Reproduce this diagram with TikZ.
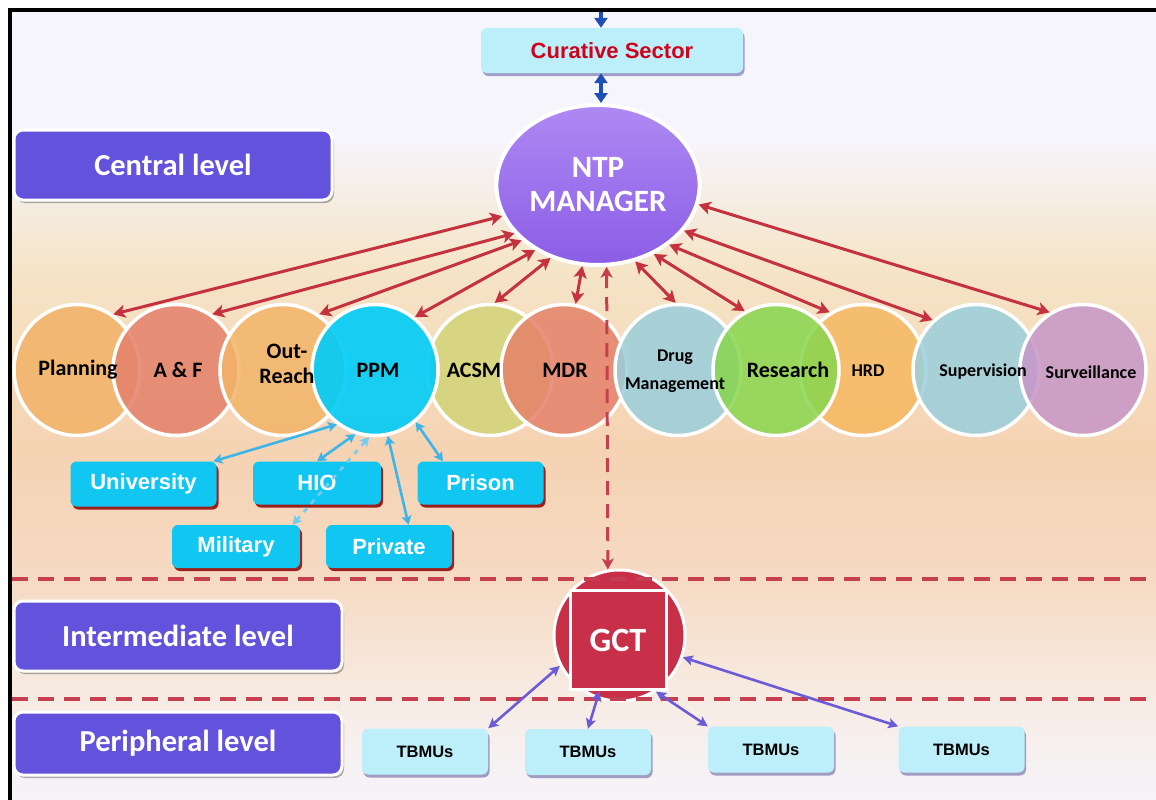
\documentclass[tikz,border=0pt]{standalone}
\usepackage{fontspec}
\setmainfont{Carlito}
\newfontfamily\arialfont{Liberation Sans}
\usetikzlibrary{arrows.meta,shadows,shapes.geometric}
\definecolor{bgA}{HTML}{F6F5FC}
\definecolor{bgB}{HTML}{F5E4C6}
\definecolor{bgC}{HTML}{F5D3B3}
\definecolor{bgD}{HTML}{F6DAC3}
\definecolor{bgE}{HTML}{F7ECE4}
\definecolor{bgF}{HTML}{F6F4FA}
\definecolor{levelc}{HTML}{6352DC}
\definecolor{curc}{HTML}{BDEFFA}
\definecolor{curtext}{HTML}{D0021B}
\definecolor{ntpc}{HTML}{9A6CF0}
\definecolor{ntpd}{HTML}{8B5DE6}
\definecolor{arrred}{HTML}{C4323F}
\definecolor{dashred}{HTML}{C63F50}
\definecolor{bluearr}{HTML}{1E4FB5}
\definecolor{cyanbox}{HTML}{12C6F2}
\definecolor{cyanline}{HTML}{3DB5E8}
\definecolor{purparr}{HTML}{6B5BD6}
\definecolor{gctred}{HTML}{C8304A}
\definecolor{cPlan}{HTML}{F2B266}
\definecolor{cAF}{HTML}{E4806A}
\definecolor{cOut}{HTML}{F2B468}
\definecolor{cPPM}{HTML}{00CCF8}
\definecolor{cACSM}{HTML}{D2D478}
\definecolor{cMDR}{HTML}{E4826A}
\definecolor{cDrug}{HTML}{9ACEDC}
\definecolor{cRes}{HTML}{88D64E}
\definecolor{cHRD}{HTML}{F5B860}
\definecolor{cSup}{HTML}{9ACFDC}
\definecolor{cSurv}{HTML}{C796C8}
\tikzset{
  levelbox/.style={rounded corners=9pt, fill=levelc, draw=white, line width=3pt,
    text=white, font=\fontsize{30.5}{34}\selectfont\bfseries,
    drop shadow={shadow xshift=2pt, shadow yshift=-3pt, opacity=0.3, fill=black}},
  lightbox/.style={rounded corners=6pt, fill=curc, draw=none,
    drop shadow={shadow xshift=1.5pt, shadow yshift=-3pt, opacity=0.35, fill=blue!40!black}},
  cyanbx/.style={rounded corners=6pt, fill=cyanbox, draw=none, text=white,
    font=\arialfont\fontsize{22}{24}\selectfont\bfseries,
    drop shadow={shadow xshift=2pt, shadow yshift=-3pt, opacity=0.85, fill=red!55!black}},
  tbmu/.style={lightbox, minimum width=126pt, minimum height=46pt,
    font=\arialfont\fontsize{16.5}{18}\selectfont\bfseries},
  bubble/.style={ellipse, minimum width=126pt, minimum height=131pt, draw=white,
    line width=3.5pt, fill opacity=0.85, inner sep=0pt},
  blabel/.style={font=\fontsize{22}{22}\selectfont\bfseries, text=black, align=center, inner sep=0pt},
  slabel/.style={font=\fontsize{18}{28}\selectfont\bfseries, text=black, align=center, inner sep=0pt},
  redarr/.style={draw=arrred, line width=3pt,
    {Stealth[length=12pt,width=13pt,inset=3pt]}-{Stealth[length=12pt,width=13pt,inset=3pt]}},
  ppmarr/.style={draw=cyanline, line width=2.6pt,
    {Stealth[length=9pt,width=10pt,inset=2pt]}-{Stealth[length=9pt,width=10pt,inset=2pt]}},
  purarr/.style={draw=purparr, line width=2.6pt,
    {Stealth[length=10pt,width=10pt,inset=2pt]}-{Stealth[length=10pt,width=10pt,inset=2pt]}},
  bluel/.style={draw=bluearr, line width=4.5pt},
  dashline/.style={draw=dashred, line width=4pt, dash pattern=on 16pt off 10pt},
}
\begin{document}
\begin{tikzpicture}[x=1pt,y=-1pt]
\useasboundingbox (0,0) rectangle (1156,800);
\fill[white] (0,0) rectangle (1156,800);
% background bands
\fill[bgA] (10,10) rectangle (1156,141);
\shade[top color=bgA,bottom color=bgB] (10,140) rectangle (1156,271);
\shade[top color=bgB,bottom color=bgC] (10,270) rectangle (1156,451);
\shade[top color=bgC,bottom color=bgD] (10,450) rectangle (1156,581);
\shade[top color=bgD,bottom color=bgE] (10,580) rectangle (1156,701);
\shade[top color=bgE,bottom color=bgF] (10,700) rectangle (1156,800);

% level boxes
\node[levelbox, minimum width=318pt, minimum height=70pt] (central) at (173,165) {Central level};
\node[levelbox, minimum width=328pt, minimum height=70pt] (inter) at (178,636) {Intermediate level};
\node[levelbox, minimum width=328pt, minimum height=63pt] (peri) at (178,743.5) {Peripheral level};

% curative sector
\node[lightbox, minimum width=262pt, minimum height=45pt, text=curtext,
  font=\arialfont\fontsize{22}{24}\selectfont\bfseries] (cur) at (612,50.5) {Curative Sector};
\coordinate (topin) at (601,10);

% bubbles
\node[bubble, fill=cPlan] (plan) at (77,370) {};
\node[bubble, fill=cAF] (af) at (176,370) {};
\node[bubble, fill=cOut] (outr) at (283,370) {};
\node[bubble, fill=cACSM] (acsm) at (490,370) {};
\node[bubble, fill=cPPM, fill opacity=0.9] (ppm) at (375,370) {};
\node[bubble, fill=cMDR] (mdr) at (564,370) {};
\node[bubble, fill=cDrug] (drug) at (678,370) {};
\node[bubble, fill=cHRD] (hrd) at (863,370) {};
\node[bubble, fill=cRes] (res) at (776,370) {};
\node[bubble, fill=cSup] (sup) at (976,370) {};
\node[bubble, fill=cSurv] (surv) at (1083,370) {};

\node[blabel] (tplan) at (78,370) {Planning};
\node[blabel] (taf) at (178,370) {A \& F};
\node[blabel, font=\fontsize{22}{25}\selectfont\bfseries] (tout) at (287,364) {Out-\\Reach};
\node[blabel] (tppm) at (378,370) {PPM};
\node[blabel] (tacsm) at (474,370) {ACSM};
\node[blabel] (tmdr) at (565,370) {MDR};
\node[slabel] (tdrug) at (675,371) {Drug\\Management};
\node[blabel] (tres) at (788,370) {Research};
\node[slabel] (thrd) at (868,371) {HRD};
\node[slabel] (tsup) at (983,372) {Supervision};
\node[slabel] (tsurv) at (1091,372) {Surveillance};

% NTP manager
\node[ellipse, minimum width=176pt, minimum height=160pt, draw=white, line width=4pt,
  top color=ntpc!80!white, bottom color=ntpd, text=white, align=center,
  font=\fontsize{31}{34}\selectfont\bfseries] (ntp) at (598,185) {NTP\\MANAGER};

% blue arrows to curative sector
\draw[bluel, -{Triangle[length=10pt,width=13pt]}] (topin) -- (cur.north -| topin);
\draw[bluel, {Triangle[length=10pt,width=13pt]}-{Triangle[length=10pt,width=13pt]}]
  (cur.south -| topin) -- (ntp.north -| topin);

% red arrows
\draw[redarr] (ntp.198) -- (plan.57);
\draw[redarr] (ntp.210) -- (af.57);
\draw[redarr] (ntp.216) -- (outr.57);
\draw[redarr] (ntp.226) -- (ppm.53);
\draw[redarr] (ntp.237) -- (acsm.86);
\draw[redarr] (ntp.259) -- (mdr.80);
\draw[redarr] (ntp.296) -- (drug.92);
\draw[redarr] (ntp.309) -- (res.118);
\draw[redarr] (ntp.320) -- (hrd.120);
\draw[redarr] (ntp.332) -- (sup.131);
\draw[redarr] (ntp.349) -- (surv.120);

% PPM sub boxes
\node[cyanbx, minimum width=146pt, minimum height=45pt] (univ) at (143.5,484) {University};
\node[cyanbx, minimum width=128pt, minimum height=43pt] (hio) at (317,483) {HIO};
\node[cyanbx, minimum width=126pt, minimum height=43pt] (pris) at (480.5,483) {Prison};
\node[cyanbx, minimum width=128pt, minimum height=43pt] (mil) at (236,546.5) {Military};
\node[cyanbx, minimum width=126pt, minimum height=43pt] (priv) at (389,546.5) {Private};

\draw[ppmarr] (ppm.235) -- (univ.18);
\draw[ppmarr] (ppm.253) -- (hio.north);
\draw[ppmarr, draw=cyanline!70!white, dash pattern=on 5pt off 6pt] (ppm.265) -- (mil.21);
\draw[ppmarr] (ppm.281) -- (priv.48);
\draw[ppmarr] (ppm.308) -- (pris.150);

% GCT
\node[circle, minimum size=131pt, fill=gctred, draw=white, line width=3pt] (gct) at (619.5,635.5) {};
\draw[dashline] (12,579) -- (1156,579);
\draw[dashline] (12,699) -- (1156,699);
\node[minimum width=96pt, minimum height=99pt, fill=gctred, draw=white, line width=3pt,
  text=white, font=\fontsize{34}{36}\selectfont\bfseries] (sq) at (618,640) {GCT};
\draw[draw=dashred, line width=3pt, dash pattern=on 14pt off 9pt,
  {Stealth[length=11pt,width=12pt,inset=3pt]}-{Stealth[length=11pt,width=12pt,inset=3pt]}]
  (ntp.276) -- (gct.100);

% TBMUs
\node[tbmu] (t1) at (425,751.5) {TBMUs};
\node[tbmu] (t2) at (588,752) {TBMUs};
\node[tbmu] (t3) at (771,749.5) {TBMUs};
\node[tbmu] (t4) at (961.5,749.5) {TBMUs};
\draw[purarr] (gct.207) -- (t1.north east);
\draw[purarr] (sq.250) -- (t2.north);
\draw[purarr] (gct.303) -- (t3.north west);
\draw[purarr] (gct.341) -- (t4.north west);

% frame
\draw[line width=3.5pt, line cap=rect] (10,800) -- (10,10) -- (1156,10);
\end{tikzpicture}
\end{document}
